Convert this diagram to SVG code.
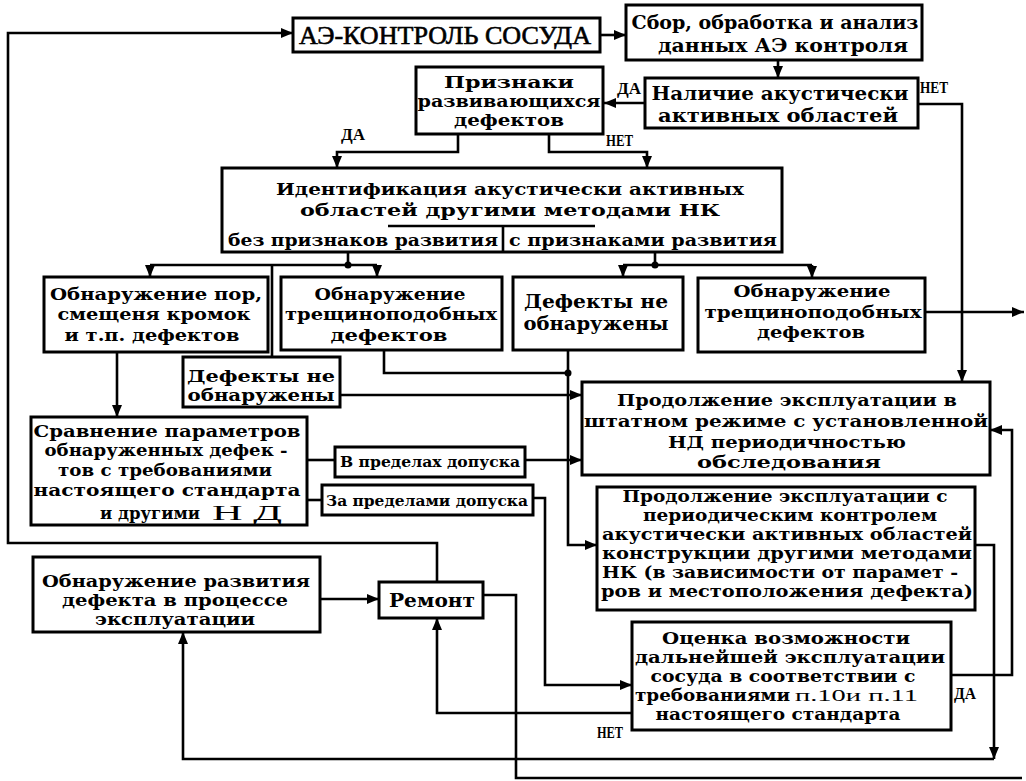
<svg xmlns="http://www.w3.org/2000/svg" width="1026" height="781" viewBox="0 0 1026 781">
<style>
.box{fill:#fff;stroke:#000;stroke-width:3}
.ln{fill:none;stroke:#000;stroke-width:2.6}
.t{font-family:"DejaVu Serif","Liberation Serif",serif;font-weight:bold;fill:#000}
.m{text-anchor:middle}
.r{font-family:"Liberation Serif","DejaVu Serif",serif;font-weight:normal;fill:#000}
.lbl{font-family:"Liberation Serif","DejaVu Serif",serif;font-weight:bold;fill:#000;font-size:16px}
</style>
<defs>
<marker id="ar" viewBox="0 0 12 10" refX="12" refY="5" markerWidth="12" markerHeight="10" markerUnits="userSpaceOnUse" orient="auto">
<path d="M0,0 L12,5 L0,10 z" fill="#000"/>
</marker>
</defs>
<rect width="1026" height="781" fill="#fff"/>

<g id="connectors">
<path class="ln" d="M437,582 V543 H8 V33 H293" marker-end="url(#ar)"/>
<path class="ln" d="M600,35 H626" marker-end="url(#ar)"/>
<path class="ln" d="M778,60 V78" marker-end="url(#ar)"/>
<path class="ln" d="M645,103 H604" marker-end="url(#ar)"/>
<path class="ln" d="M918,104 H962 V382" marker-end="url(#ar)"/>
<path class="ln" d="M458,134 V152 H337 V168" marker-end="url(#ar)"/>
<path class="ln" d="M549,134 V152 H647 V168" marker-end="url(#ar)"/>
<path class="ln" d="M348,252 V265"/>
<path class="ln" d="M150,265 H377"/>
<path class="ln" d="M150,265 V277" marker-end="url(#ar)"/>
<path class="ln" d="M377,265 V277" marker-end="url(#ar)"/>
<path class="ln" d="M272,265 V357"/>
<circle cx="348" cy="265" r="3.5"/>
<path class="ln" d="M655,252 V265"/>
<path class="ln" d="M623,265 H812"/>
<path class="ln" d="M623,265 V277" marker-end="url(#ar)"/>
<path class="ln" d="M812,265 V278" marker-end="url(#ar)"/>
<circle cx="655" cy="265" r="3.5"/>
<path class="ln" d="M925,312 H1024" marker-end="url(#ar)"/>
<path class="ln" d="M384,350 V373 H568"/>
<path class="ln" d="M568,350 V545 H597" marker-end="url(#ar)"/>
<circle cx="568" cy="373" r="3.5"/>
<path class="ln" d="M340,395 H582" marker-end="url(#ar)"/>
<path class="ln" d="M117,352 V417" marker-end="url(#ar)"/>
<path class="ln" d="M307,460 H335"/>
<path class="ln" d="M525,460 H582" marker-end="url(#ar)"/>
<path class="ln" d="M307,500 H322"/>
<path class="ln" d="M533,498 H545 V685 H632" marker-end="url(#ar)"/>
<path class="ln" d="M975,545 H994 V759" marker-end="url(#ar)"/>
<path class="ln" d="M951,675 H1012 V430 H990" marker-end="url(#ar)"/>
<path class="ln" d="M632,713 H437 V618" marker-end="url(#ar)"/>
<path class="ln" d="M994,759 H183 V632" marker-end="url(#ar)"/>
<path class="ln" d="M483,595 H516 V778 H1022"/>
<path class="ln" d="M320,599 H379" marker-end="url(#ar)"/>
<text class="lbl" x="617" y="94" textLength="24" lengthAdjust="spacingAndGlyphs">ДА</text>
<text class="lbl" x="920" y="93" textLength="28" lengthAdjust="spacingAndGlyphs">НЕТ</text>
<text class="lbl" x="341" y="140" textLength="24" lengthAdjust="spacingAndGlyphs">ДА</text>
<text class="lbl" x="606" y="146" textLength="27" lengthAdjust="spacingAndGlyphs">НЕТ</text>
<text class="lbl" x="954" y="699" textLength="22" lengthAdjust="spacingAndGlyphs">ДА</text>
<text class="lbl" x="597" y="738" textLength="26" lengthAdjust="spacingAndGlyphs">НЕТ</text>
</g>

<g id="ae">
<rect class="box" x="293" y="18" width="307" height="34"/>
<text class="r m" x="445" y="44" font-size="25" stroke="#000" stroke-width="0.6" textLength="292" lengthAdjust="spacingAndGlyphs">АЭ-КОНТРОЛЬ СОСУДА</text>
</g>

<g id="sbor">
<rect class="box" x="626" y="5" width="296" height="55"/>
<text class="t m" x="775" y="29" font-size="19" textLength="287" lengthAdjust="spacingAndGlyphs">Сбор, обработка и анализ</text>
<text class="t m" x="783" y="52" font-size="19" textLength="250" lengthAdjust="spacingAndGlyphs">данных АЭ контроля</text>
</g>

<g id="nalichie">
<rect class="box" x="645" y="78" width="273" height="50"/>
<text class="t m" x="780" y="100" font-size="18.5" textLength="257" lengthAdjust="spacingAndGlyphs">Наличие акустически</text>
<text class="t m" x="778" y="122" font-size="18.5" textLength="240" lengthAdjust="spacingAndGlyphs">активных областей</text>
</g>

<g id="priznaki">
<rect class="box" x="416" y="67" width="187" height="67"/>
<text class="t m" x="509" y="88" font-size="16" textLength="130" lengthAdjust="spacingAndGlyphs">Признаки</text>
<text class="t m" x="509" y="107" font-size="16" textLength="183" lengthAdjust="spacingAndGlyphs">развивающихся</text>
<text class="t m" x="509" y="126" font-size="16" textLength="110" lengthAdjust="spacingAndGlyphs">дефектов</text>
</g>

<g id="identifikaciya">
<rect class="box" x="222" y="168" width="560" height="84"/>
<text class="t m" x="510" y="195" font-size="17.5" textLength="468" lengthAdjust="spacingAndGlyphs">Идентификация акустически активных</text>
<text class="t m" x="510" y="216" font-size="17.5" textLength="420" lengthAdjust="spacingAndGlyphs">областей другими методами НК</text>
<path class="ln" d="M388,226 H595 M503,227 V252"/>
<text class="t m" x="363" y="246" font-size="17" textLength="270" lengthAdjust="spacingAndGlyphs">без признаков развития</text>
<text class="t m" x="643" y="246" font-size="17" textLength="268" lengthAdjust="spacingAndGlyphs">с признаками развития</text>
</g>

<g id="obn-por">
<rect class="box" x="44" y="277" width="224" height="75"/>
<text class="t m" x="156" y="300" font-size="17" textLength="212" lengthAdjust="spacingAndGlyphs">Обнаружение пор,</text>
<text class="t m" x="154" y="320" font-size="17" textLength="193" lengthAdjust="spacingAndGlyphs">смещеня кромок</text>
<text class="t m" x="152" y="341" font-size="17" textLength="175" lengthAdjust="spacingAndGlyphs">и т.п. дефектов</text>
</g>

<g id="obn-tresh-1">
<rect class="box" x="281" y="277" width="221" height="73"/>
<text class="t m" x="390" y="300" font-size="17" textLength="151" lengthAdjust="spacingAndGlyphs">Обнаружение</text>
<text class="t m" x="391" y="320" font-size="17" textLength="212" lengthAdjust="spacingAndGlyphs">трещиноподобных</text>
<text class="t m" x="389" y="341" font-size="17" textLength="117" lengthAdjust="spacingAndGlyphs">дефектов</text>
</g>

<g id="def-ne-1">
<rect class="box" x="513" y="277" width="170" height="73"/>
<text class="t m" x="596" y="308" font-size="18.5" textLength="144" lengthAdjust="spacingAndGlyphs">Дефекты не</text>
<text class="t m" x="596" y="330" font-size="18.5" textLength="145" lengthAdjust="spacingAndGlyphs">обнаружены</text>
</g>

<g id="obn-tresh-2">
<rect class="box" x="698" y="278" width="227" height="74"/>
<text class="t m" x="812" y="297" font-size="17" textLength="157" lengthAdjust="spacingAndGlyphs">Обнаружение</text>
<text class="t m" x="813" y="318" font-size="17" textLength="217" lengthAdjust="spacingAndGlyphs">трещиноподобных</text>
<text class="t m" x="811" y="338" font-size="17" textLength="108" lengthAdjust="spacingAndGlyphs">дефектов</text>
</g>

<g id="def-ne-2">
<rect class="box" x="183" y="357" width="157" height="50"/>
<text class="t m" x="261" y="382" font-size="16" textLength="148" lengthAdjust="spacingAndGlyphs">Дефекты не</text>
<text class="t m" x="261" y="401" font-size="16" textLength="147" lengthAdjust="spacingAndGlyphs">обнаружены</text>
</g>

<g id="sravnenie">
<rect class="box" x="31" y="417" width="276" height="108"/>
<text class="t m" x="167" y="437" font-size="16" textLength="267" lengthAdjust="spacingAndGlyphs">Сравнение параметров</text>
<text class="t m" x="166" y="456" font-size="16" textLength="243" lengthAdjust="spacingAndGlyphs">обнаруженных дефек -</text>
<text class="t m" x="165" y="476" font-size="16" textLength="214" lengthAdjust="spacingAndGlyphs">тов с требованиями</text>
<text class="t m" x="167" y="496" font-size="16" textLength="267" lengthAdjust="spacingAndGlyphs">настоящего стандарта</text>
<text class="t" x="100" y="519" font-size="16" textLength="100" lengthAdjust="spacingAndGlyphs">и  другими</text>
<text class="r" x="212" y="520" font-size="20" textLength="70" lengthAdjust="spacingAndGlyphs">Н Д</text>
</g>

<g id="v-predelah">
<rect class="box" x="335" y="447" width="190" height="30"/>
<text class="t" x="340" y="467" font-size="15" textLength="180" lengthAdjust="spacingAndGlyphs">В пределах допуска</text>
</g>

<g id="za-predelami">
<rect class="box" x="322" y="485" width="211" height="30"/>
<text class="t" x="326" y="506" font-size="15" textLength="202" lengthAdjust="spacingAndGlyphs">За пределами допуска</text>
</g>

<g id="prod-shtat">
<rect class="box" x="582" y="382" width="408" height="93"/>
<text class="t m" x="787" y="406" font-size="17" textLength="340" lengthAdjust="spacingAndGlyphs">Продолжение эксплуатации в</text>
<text class="t m" x="786" y="427" font-size="17" textLength="404" lengthAdjust="spacingAndGlyphs">штатном режиме с установленной</text>
<text class="t m" x="787" y="448" font-size="17" textLength="238" lengthAdjust="spacingAndGlyphs">НД периодичностью</text>
<text class="t m" x="789" y="468" font-size="17" textLength="184" lengthAdjust="spacingAndGlyphs">обследования</text>
</g>

<g id="prod-period">
<rect class="box" x="597" y="487" width="378" height="123"/>
<text class="t m" x="785" y="502" font-size="16" textLength="325" lengthAdjust="spacingAndGlyphs">Продолжение эксплуатации с</text>
<text class="t m" x="790" y="521" font-size="16" textLength="294" lengthAdjust="spacingAndGlyphs">периодическим контролем</text>
<text class="t m" x="787" y="540" font-size="16" textLength="370" lengthAdjust="spacingAndGlyphs">акустически активных областей</text>
<text class="t m" x="787" y="559" font-size="16" textLength="370" lengthAdjust="spacingAndGlyphs">конструкции другими методами</text>
<text class="t m" x="780" y="578" font-size="16" textLength="356" lengthAdjust="spacingAndGlyphs">НК (в зависимости от  парамет -</text>
<text class="t m" x="787" y="597" font-size="16" textLength="372" lengthAdjust="spacingAndGlyphs">ров и местоположения дефекта)</text>
</g>

<g id="obn-razv">
<rect class="box" x="33" y="557" width="287" height="75"/>
<text class="t m" x="176" y="587" font-size="16" textLength="268" lengthAdjust="spacingAndGlyphs">Обнаружение развития</text>
<text class="t m" x="175" y="606" font-size="16" textLength="226" lengthAdjust="spacingAndGlyphs">дефекта в процессе</text>
<text class="t m" x="175" y="625" font-size="16" textLength="160" lengthAdjust="spacingAndGlyphs">эксплуатации</text>
</g>

<g id="remont">
<rect class="box" x="379" y="582" width="104" height="36"/>
<text class="t m" x="432" y="607" font-size="18" textLength="86" lengthAdjust="spacingAndGlyphs">Ремонт</text>
</g>

<g id="ocenka">
<rect class="box" x="632" y="622" width="319" height="108"/>
<text class="t m" x="786" y="644" font-size="16" textLength="248" lengthAdjust="spacingAndGlyphs">Оценка возможности</text>
<text class="t m" x="790" y="663" font-size="16" textLength="310" lengthAdjust="spacingAndGlyphs">дальнейшей эксплуатации</text>
<text class="t m" x="783" y="682" font-size="16" textLength="265" lengthAdjust="spacingAndGlyphs">сосуда в соответствии с</text>
<text class="t" x="635" y="701" font-size="16" textLength="155" lengthAdjust="spacingAndGlyphs">требованиями</text>
<text class="r" x="795" y="701" font-size="17" textLength="123" lengthAdjust="spacingAndGlyphs">п.10и п.11</text>
<text class="t m" x="778" y="720" font-size="16" textLength="245" lengthAdjust="spacingAndGlyphs">настоящего стандарта</text>
</g>
</svg>
